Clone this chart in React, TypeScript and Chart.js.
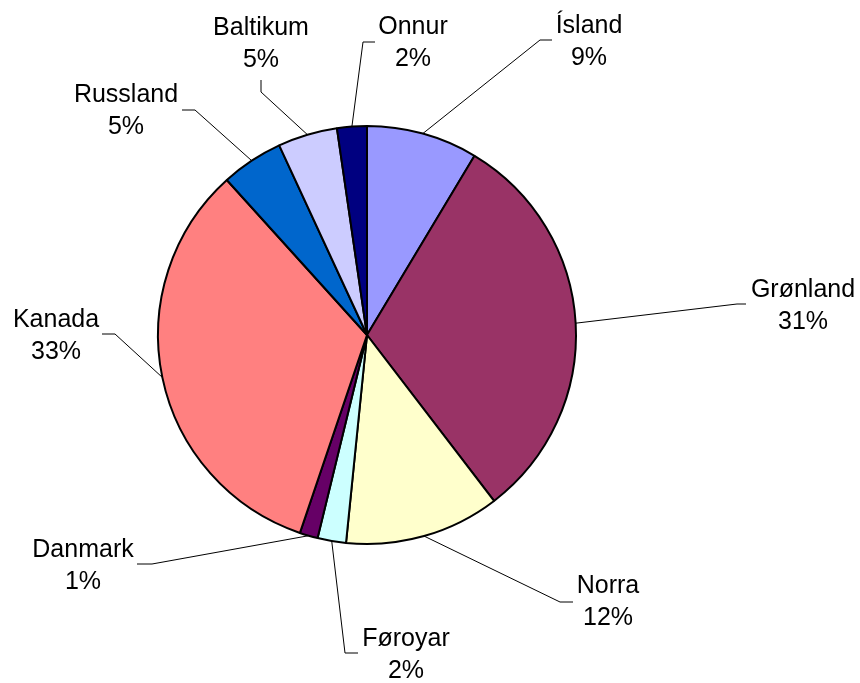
import React, { useEffect, useRef } from "react";
import { Chart, registerables } from "chart.js";

Chart.register(...registerables);

const categories = ["Ísland", "Grønland", "Norra", "Føroyar", "Danmark", "Kanada", "Russland", "Baltikum", "Onnur"];
const values = [8.6, 31.0, 12.0, 2.2, 1.4, 33.1, 4.8, 4.6, 2.3];
const colors = ["#9999FF", "#993366", "#FFFFCC", "#CCFFFF", "#660066", "#FF8080", "#0066CC", "#CCCCFF", "#000080"];

// label layout: text centre x, first baseline y, leader elbow and end
const labelLayout = [
  { tx: 589, ty: 33, elbow: [540, 40], end: [552, 40] },
  { tx: 803, ty: 297, elbow: [737, 304], end: [746, 304] },
  { tx: 608, ty: 593, elbow: [560, 602], end: [573, 602] },
  { tx: 406, ty: 646, elbow: [345, 653], end: [358, 653] },
  { tx: 83, ty: 557, elbow: [152, 564], end: [137, 564] },
  { tx: 56, ty: 327, elbow: [115, 334], end: [102, 334] },
  { tx: 126, ty: 102, elbow: [195, 110], end: [182, 110] },
  { tx: 261, ty: 35, elbow: [261, 92], end: [261, 80] },
  { tx: 413, ty: 34, elbow: [363, 42], end: [375, 42] },
];

const labelPlugin = {
  id: "pieLabels",
  afterDraw(chart: any) {
    const ctx = chart.ctx;
    const meta = chart.getDatasetMeta(0);
    const data = chart.data.datasets[0].data as number[];
    const total = data.reduce((a, b) => a + b, 0);
    ctx.save();
    ctx.strokeStyle = "#000";
    ctx.lineWidth = 1;
    ctx.fillStyle = "#000";
    ctx.font = '25px "Liberation Sans", Arial, sans-serif';
    ctx.textAlign = "center";
    ctx.textBaseline = "alphabetic";
    meta.data.forEach((arc: any, i: number) => {
      const p = arc.getProps(["x", "y", "startAngle", "endAngle", "outerRadius"], true);
      const mid = (p.startAngle + p.endAngle) / 2;
      const sx = p.x + Math.cos(mid) * p.outerRadius;
      const sy = p.y + Math.sin(mid) * p.outerRadius;
      const L = labelLayout[i];
      ctx.beginPath();
      ctx.moveTo(sx, sy);
      ctx.lineTo(L.elbow[0], L.elbow[1]);
      ctx.lineTo(L.end[0], L.end[1]);
      ctx.stroke();
      const pct = Math.round((data[i] / total) * 100) + "%";
      ctx.fillText(categories[i], L.tx, L.ty);
      ctx.fillText(pct, L.tx, L.ty + 31.5);
    });
    ctx.restore();
  },
};

export default function App() {
  const ref = useRef<HTMLCanvasElement>(null);
  useEffect(() => {
    if (!ref.current) return;
    const chart = new Chart(ref.current, {
      type: "pie",
      data: {
        labels: categories,
        datasets: [
          {
            data: values,
            backgroundColor: colors,
            borderColor: "#000",
            borderWidth: 2,
          },
        ],
      },
      options: {
        animation: false,
        responsive: true,
        maintainAspectRatio: false,
        layout: { padding: { left: 157, right: 283, top: 125, bottom: 138 } },
        plugins: {
          legend: { display: false },
          tooltip: { enabled: false },
        },
      },
      plugins: [labelPlugin],
    });
    return () => chart.destroy();
  }, []);
  return (
    <div style={{ position: "absolute", left: 0, top: 0, width: 860, height: 683, background: "#fff" }}>
      <canvas ref={ref} />
    </div>
  );
}
